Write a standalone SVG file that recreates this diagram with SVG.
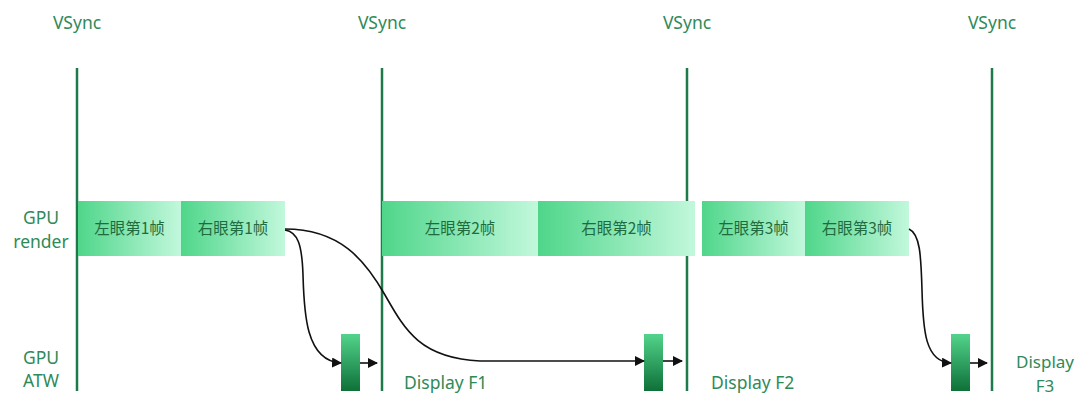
<svg xmlns="http://www.w3.org/2000/svg" width="1081" height="396" viewBox="0 0 1081 396">
<defs>
<linearGradient id="gh" x1="0" y1="0" x2="1" y2="0">
<stop offset="0" stop-color="#4fd68a"/>
<stop offset="1" stop-color="#c2f8dc"/>
</linearGradient>
<linearGradient id="gv" x1="0" y1="0" x2="0" y2="1">
<stop offset="0" stop-color="#52d48c"/>
<stop offset="1" stop-color="#0e7038"/>
</linearGradient>
<marker id="ah" markerWidth="10" markerHeight="10" refX="9" refY="5" orient="auto" markerUnits="userSpaceOnUse">
<path d="M0,0 L10,5 L0,10 Z" fill="#111"/>
</marker>
<style>
.lbl{font-family:"Noto Sans","Liberation Sans",sans-serif;fill:#2f8a59;font-size:17.5px;text-anchor:middle}
.cjk{font-family:"Noto Sans CJK SC","Noto Sans",sans-serif;fill:#1f6b40;font-size:15.5px;text-anchor:middle}
.vl{stroke:#1e7a48;stroke-width:2.5;fill:none}
.bar{fill:url(#gh)}
.atw{fill:url(#gv)}
.con{stroke:#111;stroke-width:1.6;fill:none}
</style>
</defs>

<g id="vsync-lines">
<text class="lbl" x="77" y="29">VSync</text>
<text class="lbl" x="382" y="29">VSync</text>
<text class="lbl" x="687" y="29">VSync</text>
<text class="lbl" x="992" y="29">VSync</text>
<line class="vl" x1="77" y1="68" x2="77" y2="391"/>
<line class="vl" x1="382" y1="68" x2="382" y2="391"/>
<line class="vl" x1="687" y1="68" x2="687" y2="391"/>
<line class="vl" x1="992" y1="68" x2="992" y2="391"/>
</g>

<g id="row-labels">
<text class="lbl" x="41" y="224">GPU</text>
<text class="lbl" x="41" y="248">render</text>
<text class="lbl" x="41" y="364">GPU</text>
<text class="lbl" x="41" y="387">ATW</text>
</g>

<g id="L1"><rect class="bar" x="78" y="201" width="103" height="55"/><text class="cjk" x="129.5" y="234">左眼第1帧</text></g>
<g id="R1"><rect class="bar" x="181" y="201" width="104" height="55"/><text class="cjk" x="233" y="234">右眼第1帧</text></g>
<g id="L2"><rect class="bar" x="382" y="201" width="156" height="55"/><text class="cjk" x="460" y="234">左眼第2帧</text></g>
<g id="R2"><rect class="bar" x="538" y="201" width="157" height="55"/><text class="cjk" x="616.5" y="234">右眼第2帧</text></g>
<g id="L3"><rect class="bar" x="702" y="201" width="103" height="55"/><text class="cjk" x="753.5" y="234">左眼第3帧</text></g>
<g id="R3"><rect class="bar" x="805" y="201" width="104" height="55"/><text class="cjk" x="857" y="234">右眼第3帧</text></g>

<g id="ATW1"><rect class="atw" x="341" y="334" width="19" height="57"/></g>
<g id="ATW2"><rect class="atw" x="644" y="334" width="19" height="57"/></g>
<g id="ATW3"><rect class="atw" x="951" y="334" width="19" height="57"/></g>

<g id="display-labels">
<text class="lbl" x="404" y="389" style="text-anchor:start">Display F1</text>
<text class="lbl" x="711" y="389" style="text-anchor:start">Display F2</text>
<text class="lbl" x="1045" y="368" style="font-size:17px">Display</text>
<text class="lbl" x="1045" y="392" style="font-size:17px">F3</text>
</g>

<g id="connectors">
<path class="con" marker-end="url(#ah)" d="M285,230 C298,232 302,245 303,275 C304,310 305,361 341,363"/>
<path class="con" marker-end="url(#ah)" d="M285,229 C340,229 365,260 385,295 C405,330 420,358 480,361 L644,361"/>
<path class="con" marker-end="url(#ah)" d="M909,229 C920,234 921,255 922,290 C923,330 925,362 951,363"/>
<path class="con" marker-end="url(#ah)" d="M360,363 L377,363"/>
<path class="con" marker-end="url(#ah)" d="M663,361 L682,361"/>
<path class="con" marker-end="url(#ah)" d="M970,363 L987,363"/>
</g>
</svg>
